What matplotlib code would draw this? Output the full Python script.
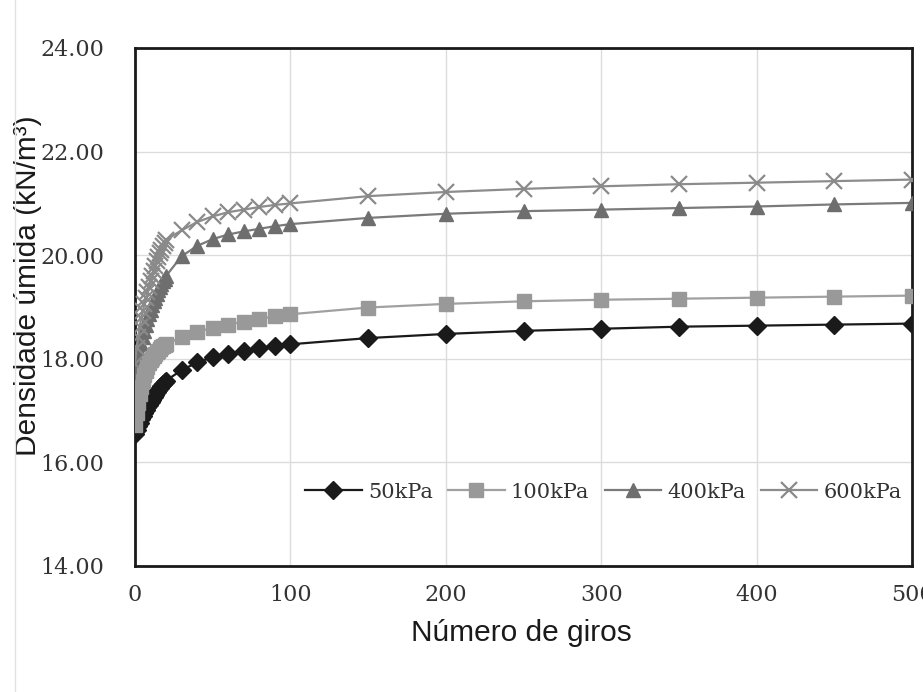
import matplotlib
matplotlib.use("Agg")
import matplotlib.pyplot as plt
from matplotlib.lines import Line2D

# ---- data -------------------------------------------------------------
giros = [0, 1, 2, 3, 4, 5, 6, 7, 8, 9, 10, 11, 12, 13, 14, 15, 16, 17, 18, 19, 20,
         30, 40, 50, 60, 70, 80, 90, 100,
         150, 200, 250, 300, 350, 400, 450, 500]

d_50kPa = [16.55, 16.62, 16.70, 16.77, 16.84, 16.90, 16.96, 17.01, 17.06, 17.11, 17.16,
           17.21, 17.26, 17.31, 17.36, 17.40, 17.44, 17.48, 17.52, 17.55, 17.58,
           17.78, 17.93, 18.03, 18.10, 18.15, 18.20, 18.24, 18.28,
           18.40, 18.48, 18.54, 18.58, 18.62, 18.64, 18.66, 18.68]

d_100kPa = [16.72, 16.95, 17.15, 17.32, 17.46, 17.58, 17.68, 17.76, 17.84, 17.91, 17.97,
            18.02, 18.06, 18.10, 18.13, 18.16, 18.19, 18.22, 18.24, 18.26, 18.28,
            18.42, 18.52, 18.60, 18.66, 18.72, 18.77, 18.82, 18.86,
            18.99, 19.06, 19.11, 19.14, 19.16, 19.18, 19.20, 19.22]

d_400kPa = [17.55, 17.78, 17.98, 18.12, 18.28, 18.42, 18.54, 18.66, 18.77, 18.87, 18.95,
            19.03, 19.11, 19.18, 19.25, 19.32, 19.38, 19.44, 19.50, 19.55, 19.60,
            19.98, 20.18, 20.31, 20.40, 20.46, 20.51, 20.56, 20.60,
            20.72, 20.80, 20.85, 20.88, 20.91, 20.94, 20.98, 21.01]

d_600kPa = [17.90, 18.20, 18.42, 18.62, 18.78, 18.92, 19.05, 19.17, 19.28, 19.39, 19.50,
            19.60, 19.70, 19.79, 19.88, 19.96, 20.04, 20.11, 20.18, 20.24, 20.30,
            20.48, 20.64, 20.75, 20.83, 20.88, 20.93, 20.97, 21.00,
            21.14, 21.22, 21.28, 21.33, 21.37, 21.40, 21.43, 21.46]

labels = ["50kPa", "100kPa", "400kPa", "600kPa"]
x_ticks = [0, 100, 200, 300, 400, 500]
y_ticks = [14, 16, 18, 20, 22, 24]

# ---- figure -----------------------------------------------------------
W, H = 923, 692
fig = plt.figure(figsize=(W / 100, H / 100), dpi=100)
ax = fig.add_axes([135 / W, 1 - 566 / H, (912 - 135) / W, (566 - 48) / H])

serif = "DejaVu Serif"
sans = "Liberation Sans"

ax.plot(giros, d_50kPa, color="#1a1a1a", lw=1.6, marker="D", ms=9,
        mfc="#1a1a1a", mec="#1a1a1a", label=labels[0], zorder=3)
ax.plot(giros, d_100kPa, color="#a0a0a0", lw=1.6, marker="s", ms=10,
        mfc="#999999", mec="#999999", label=labels[1], zorder=4)
ax.plot(giros, d_400kPa, color="#7a7a7a", lw=1.6, marker="^", ms=10,
        mfc="#6e6e6e", mec="#6e6e6e", label=labels[2], zorder=3)
ax.plot(giros, d_600kPa, color="#8c8c8c", lw=1.6, marker="x", ms=11, mew=1.6,
        mec="#8a8a8a", label=labels[3], zorder=3)

ax.set_xlim(0, 500)
ax.set_ylim(14, 24)
ax.set_xticks(x_ticks)
ax.set_yticks(y_ticks)
ax.set_yticklabels([f"{v:.2f}" for v in y_ticks])
ax.grid(True, color="#dcdcdc", lw=1.0)
ax.set_axisbelow(True)
ax.tick_params(length=0, labelsize=16, colors="#333333")
ax.tick_params(axis="y", pad=22)
ax.tick_params(axis="x", pad=13)
for lab in ax.get_xticklabels() + ax.get_yticklabels():
    lab.set_fontfamily(serif)

for sp in ax.spines.values():
    sp.set_color("#1a1a1a")
    sp.set_linewidth(2.0)

ax.set_xlabel("Número de giros", fontsize=21.5, family=sans, color="#1a1a1a")
ax.set_ylabel("Densidade úmida (kN/m³)", fontsize=21.5, family=sans, color="#1a1a1a")
ax.xaxis.set_label_coords((521 - 135) / 777, (566 - 619) / 518)
ax.yaxis.set_label_coords((42 - 135) / 777, (566 - 286) / 518)

leg = ax.legend(loc="center right", bbox_to_anchor=((902 - 135) / 777, (566 - 492) / 518),
                ncol=4, frameon=False, borderaxespad=0, borderpad=0,
                handlelength=2.7, handletextpad=0.3, columnspacing=0.75,
                prop={"family": serif, "size": 15})
for t in leg.get_texts():
    t.set_color("#333333")

fig.add_artist(Line2D([15 / W, 15 / W], [0, 1], color="#e2e2e2", lw=1))

fig.savefig("out.png", dpi=100)
